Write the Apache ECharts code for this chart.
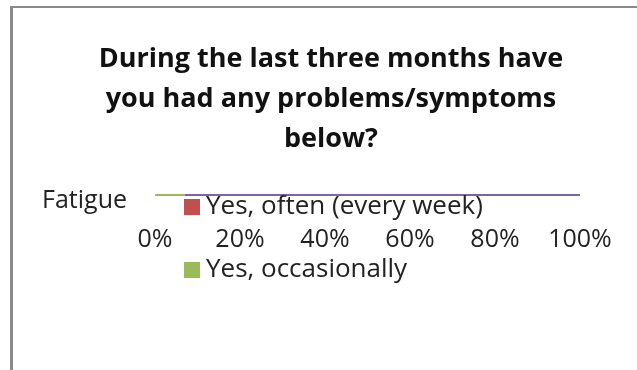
<!DOCTYPE html>
<html>
<head>
<meta charset="utf-8">
<script src="https://cdn.jsdelivr.net/npm/echarts@6/dist/echarts.min.js"></script>
<style>
  html, body { margin: 0; padding: 0; background: #fff; }
  #frame {
    position: absolute; left: 10px; top: 6px; width: 640px; height: 362px;
    border-left: 3px solid #8a8a8a; border-top: 2px solid #8a8a8a;
    border-bottom: 1px solid #eee;
  }
  #chart { position: absolute; left: 0; top: 0; width: 637px; height: 370px; }
</style>
</head>
<body>
<div id="frame"></div>
<div id="chart"></div>
<script>
// categories and values (percent of answers)
const categories = ['Fatigue']
const seriesNames = ['Yes, often (every week)', 'Yes, occasionally', 'No']
const often = [0]
const occasionally = [7]
const never = [93]
const tickLabels = ['0%', '20%', '40%', '60%', '80%', '100%']

const colors = ['#c0504d', '#9bbb59', '#8064a2']
const font = '"Open Sans", sans-serif'

const chart = echarts.init(document.getElementById('chart'))

const makeSeries = (name, data, color) => ({
  name,
  type: 'bar',
  stack: 'total',
  barWidth: 2,
  data,
  itemStyle: { color },
  silent: true
})

const legendText = { fontFamily: font, fontSize: 26, color: '#222', padding: [0, 0, 0, 1] }

chart.setOption({
  animation: false,
  title: {
    text: 'During the last three months have\nyou had any problems/symptoms\nbelow?',
    left: 331,
    top: 39,
    padding: 0,
    textAlign: 'center',
    textStyle: {
      fontFamily: font,
      fontWeight: 'bold',
      fontSize: 27,
      lineHeight: 40,
      color: '#111'
    }
  },
  legend: [
    {
      data: [seriesNames[0]],
      left: 184,
      top: 194,
      padding: 0,
      itemWidth: 16,
      itemHeight: 16,
      icon: 'rect',
      textStyle: legendText
    },
    {
      data: [seriesNames[1]],
      left: 184,
      top: 257,
      padding: 0,
      itemWidth: 16,
      itemHeight: 16,
      icon: 'rect',
      textStyle: legendText
    }
  ],
  grid: {
    left: 155,
    right: 57,
    top: 190,
    height: 10
  },
  xAxis: {
    type: 'value',
    min: 0,
    max: 100,
    interval: 20,
    axisLine: { show: false },
    axisTick: { show: false },
    splitLine: { show: false },
    axisLabel: {
      margin: 27,
      fontFamily: font,
      fontSize: 25,
      color: '#222',
      formatter: (v) => tickLabels[v / 20]
    }
  },
  yAxis: {
    type: 'category',
    data: categories,
    axisLine: { show: false },
    axisTick: { show: false },
    axisLabel: {
      margin: 28,
      fontFamily: font,
      fontSize: 25,
      color: '#222',
      verticalAlign: 'top',
      lineHeight: 12
    }
  },
  series: [
    makeSeries(seriesNames[0], often, colors[0]),
    makeSeries(seriesNames[1], occasionally, colors[1]),
    makeSeries(seriesNames[2], never, colors[2])
  ]
})
</script>
</body>
</html>
